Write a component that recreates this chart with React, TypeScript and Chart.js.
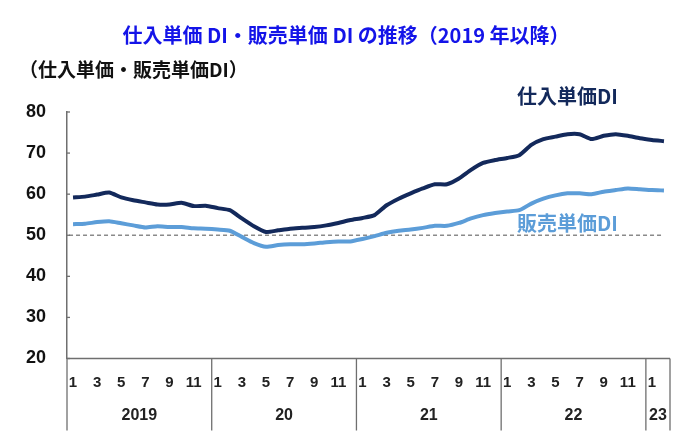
import React, { useEffect, useRef } from "react";
import { Chart, registerables } from "chart.js";

Chart.register(...registerables);

// year groups on the x axis and how many months each holds
const yearLabels = ["2019", "20", "21", "22", "23"];
const monthsPerYear = [12, 12, 12, 12, 2];

// 仕入単価DI (purchase price DI), Jan 2019 - Feb 2023
const purchaseDI = [
  59.2, 59.4, 59.9, 60.4, 59.2, 58.5, 58.0, 57.5, 57.5, 57.9, 57.1, 57.2,
  56.6, 56.1, 54.1, 52.2, 50.8, 51.2, 51.6, 51.8, 52.0, 52.4, 53.0, 53.7,
  54.2, 54.9, 57.3, 58.9, 60.2, 61.4, 62.4, 62.4, 63.8, 65.9, 67.6, 68.3,
  68.8, 69.5, 72.0, 73.4, 74.0, 74.6, 74.6, 73.4, 74.2, 74.6, 74.2, 73.6,
  73.2, 72.9,
];

// 販売単価DI (sales price DI)
const salesDI = [
  52.7, 52.8, 53.2, 53.4, 52.9, 52.4, 51.9, 52.2, 52.0, 52.0, 51.7, 51.6,
  51.4, 51.1, 49.6, 48.1, 47.2, 47.6, 47.8, 47.8, 48.0, 48.3, 48.5, 48.5,
  49.1, 49.8, 50.6, 51.1, 51.4, 51.8, 52.3, 52.3, 53.0, 54.1, 54.9, 55.4,
  55.8, 56.1, 57.7, 58.9, 59.7, 60.2, 60.2, 60.0, 60.6, 61.0, 61.4, 61.2,
  61.0, 60.9,
];

const yTicks = [20, 30, 40, 50, 60, 70, 80];
const baseline = 50;

const categories = yearLabels.flatMap((y, i) =>
  Array.from({ length: monthsPerYear[i] }, (_, m) => `${y}/${m + 1}`)
);

const NAVY = "#13295b";
const LIGHT = "#5c9dd8";
const AXIS = "#6f6f6f";
const LATIN = '"Liberation Sans", Arial, sans-serif';
const CJK = '"Noto Sans CJK JP", "Liberation Sans", sans-serif';

const decorPlugin = {
  id: "decor",
  beforeDatasetsDraw(chart: any) {
    const { ctx, scales } = chart;
    const x = scales.x;
    const y = scales.y;
    const by = y.getPixelForValue(baseline);
    ctx.save();
    ctx.setLineDash([4, 3]);
    ctx.strokeStyle = "#8a8a8a";
    ctx.lineWidth = 1.3;
    ctx.beginPath();
    ctx.moveTo(x.getPixelForValue(0) - 4, by);
    ctx.lineTo(x.getPixelForValue(categories.length - 1), by);
    ctx.stroke();
    ctx.restore();
  },
  afterDraw(chart: any) {
    const { ctx, chartArea, scales } = chart;
    const x = scales.x;
    const y = scales.y;
    const step = x.getPixelForValue(1) - x.getPixelForValue(0);
    const bottom = y.getPixelForValue(yTicks[0]);
    const left = chartArea.left;
    ctx.save();

    // inward tick marks on the y axis
    ctx.strokeStyle = AXIS;
    ctx.lineWidth = 1.3;
    yTicks.forEach((t) => {
      const py = y.getPixelForValue(t);
      ctx.beginPath();
      ctx.moveTo(left, py);
      ctx.lineTo(left + 3, py);
      ctx.stroke();
    });

    // x axis line
    const last = x.getPixelForValue(categories.length - 1) + step / 2;
    ctx.lineWidth = 1.5;
    ctx.beginPath();
    ctx.moveTo(left, bottom);
    ctx.lineTo(last, bottom);
    ctx.stroke();

    // year dividers
    const bounds: number[] = [];
    let idx = 0;
    bounds.push(x.getPixelForValue(0) - step / 2);
    monthsPerYear.forEach((n) => {
      idx += n;
      bounds.push(x.getPixelForValue(idx - 1) + step / 2);
    });
    ctx.lineWidth = 1.3;
    bounds.forEach((bx) => {
      ctx.beginPath();
      ctx.moveTo(bx, bottom);
      ctx.lineTo(bx, bottom + 72);
      ctx.stroke();
    });

    // month numbers
    ctx.fillStyle = "#222";
    ctx.textAlign = "center";
    ctx.textBaseline = "middle";
    ctx.font = `bold 15px ${LATIN}`;
    categories.forEach((c, i) => {
      const m = Number(c.split("/")[1]);
      if (m % 2 === 1) ctx.fillText(String(m), x.getPixelForValue(i), bottom + 24);
    });

    // year labels
    ctx.font = `bold 16px ${LATIN}`;
    yearLabels.forEach((yl, i) => {
      ctx.fillText(yl, (bounds[i] + bounds[i + 1]) / 2, bottom + 57);
    });

    // title and axis caption
    ctx.fillStyle = "#1414e8";
    ctx.font = `bold 20px ${CJK}`;
    ctx.fillText("仕入単価 DI・販売単価 DI の推移（2019 年以降）", chart.width / 2, 35);

    ctx.fillStyle = "#111";
    ctx.textAlign = "left";
    ctx.font = `bold 19px ${CJK}`;
    ctx.fillText("（仕入単価・販売単価DI）", 19, 70);

    // series labels
    ctx.font = `bold 20px ${CJK}`;
    ctx.fillStyle = NAVY;
    ctx.fillText("仕入単価DI", 517, 96);
    ctx.fillStyle = LIGHT;
    ctx.fillText("販売単価DI", 517, 223);

    ctx.restore();
  },
};

const App: React.FC = () => {
  const canvasRef = useRef<HTMLCanvasElement | null>(null);
  const chartRef = useRef<Chart | null>(null);

  useEffect(() => {
    document.body.style.margin = "0";
    if (!canvasRef.current) return;
    if (chartRef.current) chartRef.current.destroy();

    chartRef.current = new Chart(canvasRef.current, {
      type: "line",
      data: {
        labels: categories,
        datasets: [
          {
            label: "仕入単価DI",
            data: purchaseDI,
            borderColor: NAVY,
            borderWidth: 4,
            pointRadius: 0,
            tension: 0.2,
          },
          {
            label: "販売単価DI",
            data: salesDI,
            borderColor: LIGHT,
            borderWidth: 4,
            pointRadius: 0,
            tension: 0.2,
          },
        ],
      },
      options: {
        animation: false,
        responsive: true,
        maintainAspectRatio: false,
        layout: { padding: { left: 0, top: 112, right: 22, bottom: 79.5 } },
        plugins: {
          legend: { display: false },
          tooltip: { enabled: false },
        },
        scales: {
          x: {
            type: "category",
            offset: true,
            display: false,
          },
          y: {
            min: 20,
            max: 80,
            afterFit: (scale: any) => {
              scale.width = 67;
            },
            ticks: {
              stepSize: 10,
              padding: 21,
              color: "#111",
              font: { family: LATIN, size: 18, weight: "bold" },
            },
            grid: { display: false, drawTicks: false },
            border: { display: true, color: AXIS, width: 1.5 },
          },
        },
      },
      plugins: [decorPlugin],
    });

    return () => {
      if (chartRef.current) {
        chartRef.current.destroy();
        chartRef.current = null;
      }
    };
  }, []);

  return (
    <div style={{ position: "absolute", left: 0, top: 0, width: 692, height: 438, background: "#fff" }}>
      <canvas ref={canvasRef} />
    </div>
  );
};

export default App;
